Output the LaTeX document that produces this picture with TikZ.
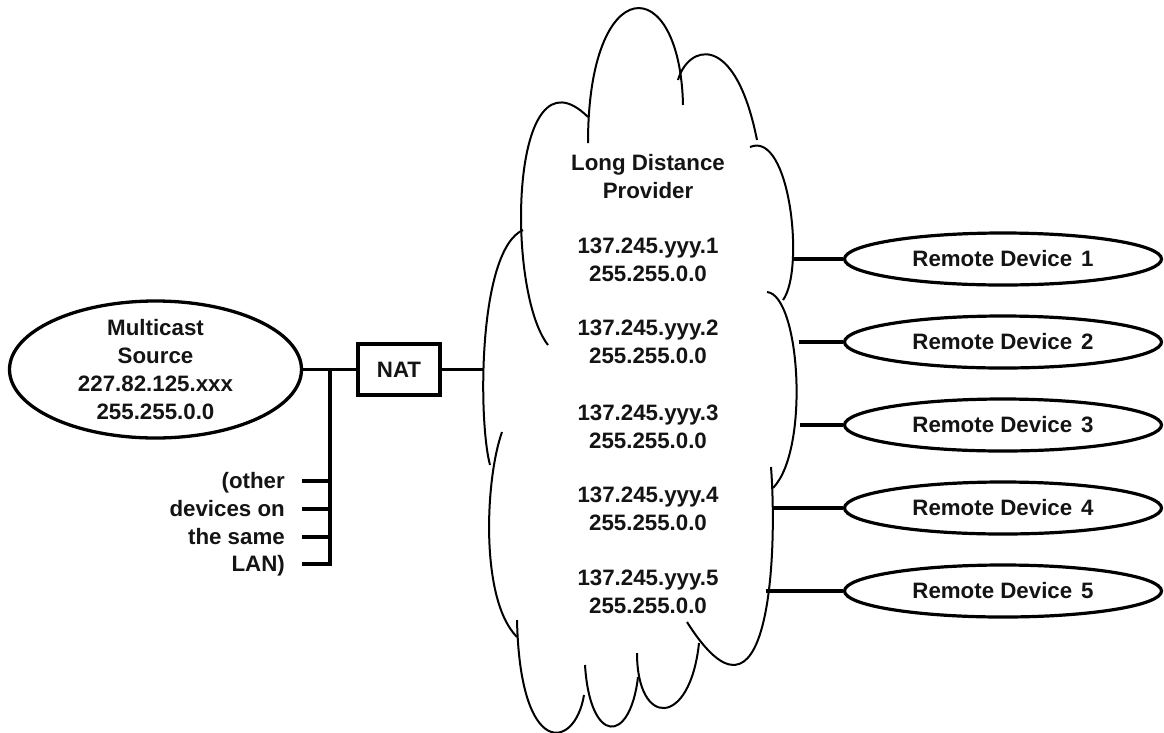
\documentclass[tikz,border=0pt]{standalone}
\usepackage{fontspec}
\setmainfont{Liberation Sans}
\usetikzlibrary{shapes.geometric}
\begin{document}
\begin{tikzpicture}[x=1pt,y=-1pt,
  txt/.style={font=\bfseries\fontsize{22.3}{28}\selectfont, inner sep=0pt, align=center, text=black!92},
  conn/.style={line width=3.8pt},
  lobe/.style={line width=2pt},
  dev/.style={ellipse, draw, line width=3.2pt, minimum width=317pt, minimum height=52pt, inner sep=0pt, txt},
]
\useasboundingbox (0,0) rectangle (1164,732);
\fill[white] (0,0) rectangle (1164,732);

% ---------- cloud ----------
\draw[lobe] (548,345) .. controls (505,290) and (510,40) .. (588,117);
\draw[lobe] (588,143) .. controls (588,-30) and (680,-30) .. (683,105);
\draw[lobe] (678,80) .. controls (688,45) and (735,30) .. (757,140);
\draw[lobe] (750,147) .. controls (790,130) and (805,270) .. (783,300);
\draw[lobe] (767,292) .. controls (800,295) and (810,450) .. (773,488);
\draw[lobe] (771,467) .. controls (778,560) and (768,750) .. (687,622);
\draw[lobe] (699,643) .. controls (690,728) and (637,728) .. (637,653);
\draw[lobe] (638,677) .. controls (630,745) and (590,745) .. (585,665);
\draw[lobe] (584,695) .. controls (575,750) and (520,760) .. (517,620);
\draw[lobe] (502,432) .. controls (485,480) and (480,600) .. (517,637);
\draw[lobe] (523,230) .. controls (478,250) and (478,420) .. (490,465);

\node[txt] (ldp) at (648,176.5) {Long Distance\\Provider};
\node[txt] (a1) at (648,260) {137.245.yyy.1\\255.255.0.0};
\node[txt] (a2) at (648,341.5) {137.245.yyy.2\\255.255.0.0};
\node[txt] (a3) at (648,426.5) {137.245.yyy.3\\255.255.0.0};
\node[txt] (a4) at (648,508.5) {137.245.yyy.4\\255.255.0.0};
\node[txt] (a5) at (648,591.5) {137.245.yyy.5\\255.255.0.0};

\coordinate (cl0) at (484,369.5);
\coordinate (cr1) at (794,259);
\coordinate (cr2) at (799,342);
\coordinate (cr3) at (800,425);
\coordinate (cr4) at (772,508);
\coordinate (cr5) at (766,591);

% ---------- left side ----------
\node[ellipse, draw, line width=3.3pt, minimum width=292pt, minimum height=137pt, inner sep=0pt] (src) at (155.5,369.5) {};
\node[txt] (srct) at (155.5,370) {Multicast\\Source\\227.82.125.xxx\\255.255.0.0};

\node[draw, line width=3.8pt, minimum width=82pt, minimum height=51pt, txt] (nat) at (399,369.5) {NAT};

\coordinate (bus) at (330,369.5);
\coordinate (busend) at (330,564);
\coordinate (t1) at (302,481);
\coordinate (t2) at (302,509);
\coordinate (t3) at (302,537);
\coordinate (t4) at (302,564);

\draw[conn] (src.east) -- (nat.west);
\draw[conn] (nat.east) -- (cl0);
\draw[conn] (bus) -- (busend) -- (t4);
\draw[conn] (t1) -- (t1 -| bus);
\draw[conn] (t2) -- (t2 -| bus);
\draw[conn] (t3) -- (t3 -| bus);

\node[txt, anchor=base east] (o1) at (285,488.5) {(other};
\node[txt, anchor=base east] (o2) at (285,516.5) {devices on};
\node[txt, anchor=base east] (o3) at (285,544.5) {the same};
\node[txt, anchor=base east] (o4) at (285,571.5) {LAN)};

% ---------- remote devices ----------
\node[dev] (rd1) at (1003,259) {Remote Device\hspace{0.4em}1};
\node[dev] (rd2) at (1003,342) {Remote Device\hspace{0.4em}2};
\node[dev] (rd3) at (1003,425) {Remote Device\hspace{0.4em}3};
\node[dev] (rd4) at (1003,508) {Remote Device\hspace{0.4em}4};
\node[dev] (rd5) at (1003,591) {Remote Device\hspace{0.4em}5};

\draw[conn] (cr1) -- (rd1.west);
\draw[conn] (cr2) -- (rd2.west);
\draw[conn] (cr3) -- (rd3.west);
\draw[conn] (cr4) -- (rd4.west);
\draw[conn] (cr5) -- (rd5.west);
\end{tikzpicture}
\end{document}
